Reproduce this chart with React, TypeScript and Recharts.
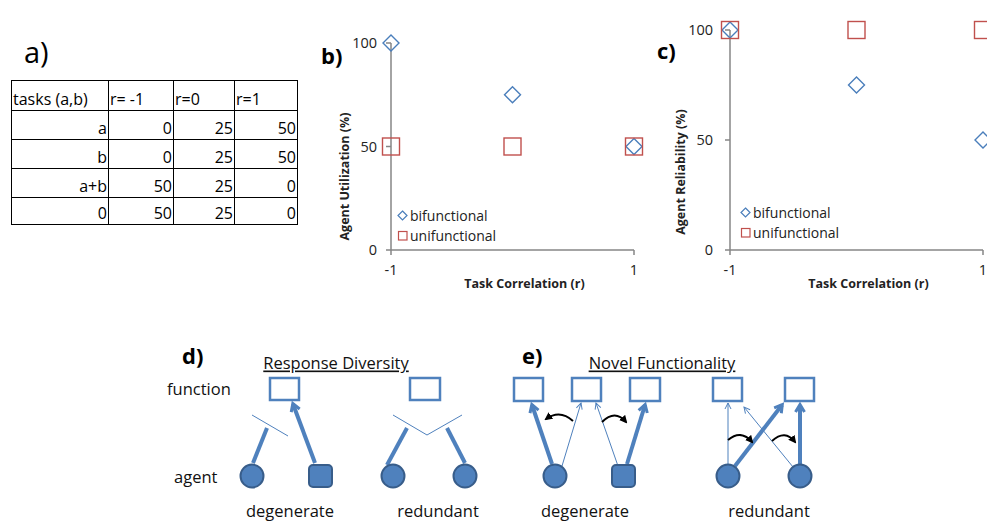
import React from "react";
import { ScatterChart, Scatter, XAxis, YAxis, Legend, Label } from "recharts";

// chart data
const correlations = [-1, 0, 1];
const utilBifunctional = [100, 75, 50];
const utilUnifunctional = [50, 50, 50];
const relBifunctional = [100, 75, 50];
const relUnifunctional = [100, 100, 100];
const yTicks = [0, 50, 100];
const xTicks = [-1, 1];

// table a)
const tableHeader = ["tasks (a,b)", "r= -1", "r=0", "r=1"];
const tableRowLabels = ["a", "b", "a+b", "0"];
const tableRMinus1 = [0, 0, 50, 50];
const tableR0 = [25, 25, 25, 25];
const tableR1 = [50, 50, 0, 0];

const FONT = "'Open Sans', Lato, sans-serif";
const BLUE = "#4a7ebb";
const RED = "#c0504d";
const AXIS = "#868686";

const toPoints = (ys: number[]) => correlations.map((x, i) => ({ x, y: ys[i] }));

const Diamond = (props: any) => {
  const { cx, cy } = props;
  const r = 8;
  return (
    <path
      d={`M${cx},${cy - r}L${cx + r},${cy}L${cx},${cy + r}L${cx - r},${cy}Z`}
      fill="none"
      stroke={BLUE}
      strokeWidth={1.4}
    />
  );
};

const Square = (props: any) => {
  const { cx, cy } = props;
  const s = 8.5;
  return <rect x={cx - s} y={cy - s} width={2 * s} height={2 * s} fill="none" stroke={RED} strokeWidth={1.4} />;
};

const LegendBox = (props: any) => {
  const { payload } = props;
  return (
    <div style={{ fontFamily: FONT, fontSize: 14, color: "#222" }}>
      {(payload || []).map((p: any) => (
        <div key={p.value} style={{ display: "flex", alignItems: "center", height: 20 }}>
          <svg width={11} height={11} style={{ marginRight: 2 }}>
            {p.type === "diamond" ? (
              <path d="M5.5,1L10,5.5L5.5,10L1,5.5Z" fill="none" stroke={BLUE} strokeWidth={1.2} />
            ) : (
              <rect x={1.5} y={1.5} width={8.5} height={8.5} fill="none" stroke={RED} strokeWidth={1.2} />
            )}
          </svg>
          <span>{p.value}</span>
        </div>
      ))}
    </div>
  );
};

const yLabel = (text: string, x: number, dy: number) => (props: any) => {
  const vb = props.viewBox;
  const cy = vb.y + vb.height / 2 + dy;
  return (
    <text
      x={x}
      y={cy}
      transform={`rotate(-90 ${x} ${cy})`}
      textAnchor="middle"
      dominantBaseline="central"
      fontFamily={FONT}
      fontWeight={700}
      fontSize={12.5}
      fill="#222"
    >
      {text}
    </text>
  );
};

const xLabel = (text: string, dx: number, dy: number) => (props: any) => {
  const vb = props.viewBox;
  return (
    <text
      x={vb.x + vb.width / 2 + dx}
      y={vb.y + dy}
      textAnchor="middle"
      dominantBaseline="central"
      fontFamily={FONT}
      fontWeight={700}
      fontSize={12.5}
      fill="#222"
    >
      {text}
    </text>
  );
};

type PanelProps = {
  left: number;
  top: number;
  width: number;
  height: number;
  margin: { top: number; right: number; bottom: number; left: number };
  bif: number[];
  uni: number[];
  yTitle: string;
  yLabelX: number;
  yLabelDy: number;
  yTickMargin: number;
  legendPos: { left: number; top: number };
};

function Panel(p: PanelProps) {
  const tick = { fill: "#222", fontSize: 14.5, fontFamily: FONT };
  return (
    <div style={{ position: "absolute", left: p.left, top: p.top }}>
      <ScatterChart width={p.width} height={p.height} margin={p.margin}>
        <XAxis
          type="number"
          dataKey="x"
          domain={[-1, 1]}
          ticks={xTicks}
          interval={0}
          height={50}
          tickSize={5}
          tickMargin={10}
          tick={tick}
          axisLine={{ stroke: AXIS, strokeWidth: 1.5 }}
          tickLine={{ stroke: AXIS, strokeWidth: 1.5 }}
        >
          <Label content={xLabel("Task Correlation (r)", 12, 33)} />
        </XAxis>
        <YAxis
          type="number"
          dataKey="y"
          domain={[0, 100]}
          ticks={yTicks}
          interval={0}
          width={80}
          tickSize={5}
          tickMargin={p.yTickMargin}
          tick={tick}
          axisLine={{ stroke: AXIS, strokeWidth: 1.5 }}
          tickLine={{ stroke: AXIS, strokeWidth: 1.5 }}
        >
          <Label content={yLabel(p.yTitle, p.yLabelX, p.yLabelDy)} />
        </YAxis>
        <Legend
          layout="vertical"
          align="center"
          verticalAlign="middle"
          content={<LegendBox />}
          wrapperStyle={{ left: p.legendPos.left, top: p.legendPos.top, width: "auto" }}
        />
        <Scatter
          name="bifunctional"
          data={toPoints(p.bif)}
          legendType="diamond"
          shape={Diamond}
          isAnimationActive={false}
        />
        <Scatter
          name="unifunctional"
          data={toPoints(p.uni)}
          legendType="square"
          shape={Square}
          isAnimationActive={false}
        />
      </ScatterChart>
    </div>
  );
}

const cellBorder = "1.5px solid #000";

function TableA() {
  const cols = [tableRMinus1, tableR0, tableR1];
  const widths = [94, 62, 58, 60];
  const heights = [30, 29, 29, 29, 27];
  const cell = { border: cellBorder, padding: "0 1px", verticalAlign: "bottom" as const, lineHeight: "22px" };
  return (
    <table
      style={{
        position: "absolute",
        left: 11,
        top: 80,
        borderCollapse: "collapse",
        fontFamily: FONT,
        fontSize: 16,
        color: "#000",
        tableLayout: "fixed",
      }}
    >
      <tbody>
        <tr style={{ height: heights[0] }}>
          {tableHeader.map((h, i) => (
            <td key={h} style={{ ...cell, width: widths[i], textAlign: "left", whiteSpace: "nowrap" }}>
              {h}
            </td>
          ))}
        </tr>
        {tableRowLabels.map((lab, r) => (
          <tr key={lab} style={{ height: heights[r + 1] }}>
            <td style={{ ...cell, textAlign: "right" }}>{lab}</td>
            {cols.map((c, ci) => (
              <td key={ci} style={{ ...cell, textAlign: "right" }}>
                {c[r]}
              </td>
            ))}
          </tr>
        ))}
      </tbody>
    </table>
  );
}

const FILL = "#4f81bd";
const DARK = "#385d8a";

function Diagrams() {
  const boxes = [
    [270, 378, 29, 22],
    [410, 378, 30, 22],
    [514, 378, 29, 23],
    [572, 378, 29, 23],
    [630, 378, 30, 23],
    [713, 378, 29, 23],
    [785, 378, 29, 23],
  ];
  const circles = [
    [252, 476],
    [393, 476],
    [465, 476],
    [555, 476],
    [728, 476],
    [800, 476],
  ];
  const squares = [
    [309, 465],
    [612, 465],
  ];
  // [x1,y1,x2,y2,thick,arrow]
  const lines: [number, number, number, number, boolean, boolean][] = [
    [252, 415, 288, 436, false, false],
    [253, 463, 267, 428, true, false],
    [315, 463, 293, 404, true, true],
    [387, 465, 407, 428, true, false],
    [465, 463, 447, 428, true, false],
    [552, 464, 532, 405, true, true],
    [562, 466, 581, 403, false, true],
    [618, 466, 596, 403, false, true],
    [627, 464, 645, 405, true, true],
    [728, 464, 728, 403, false, true],
    [793, 467, 744, 407, false, true],
    [735, 466, 782, 405, true, true],
    [800, 464, 800, 405, true, true],
  ];
  const curves = [
    "M573,421 Q560,409 546,419",
    "M602,422 Q615,409 626,422",
    "M728,440 Q741,429 752,442",
    "M772,441 Q785,429 795,442",
  ];
  const txt = { fontFamily: FONT, fontSize: 16.5, fill: "#111" };
  return (
    <svg width={987} height={523} style={{ position: "absolute", left: 0, top: 0 }}>
      <defs>
        <marker id="ahThick" viewBox="0 0 12 12" refX={9} refY={6} markerWidth={12} markerHeight={12} markerUnits="userSpaceOnUse" orient="auto">
          <path d="M2,1.5L9.5,6L2,10.5" fill="none" stroke={FILL} strokeWidth={3} />
        </marker>
        <marker id="ahThin" viewBox="0 0 8 8" refX={7} refY={4} markerWidth={8} markerHeight={8} markerUnits="userSpaceOnUse" orient="auto">
          <path d="M1,1L7,4L1,7" fill="none" stroke={FILL} strokeWidth={1} />
        </marker>
        <marker id="ahBlack" viewBox="0 0 8 8" refX={6} refY={4} markerWidth={8} markerHeight={8} markerUnits="userSpaceOnUse" orient="auto">
          <path d="M0,0L8,4L0,8Z" fill="#000" />
        </marker>
      </defs>
      <text x={182} y={355} fontFamily={FONT} fontSize={22} fontWeight={700} dominantBaseline="central">d)</text>
      <text x={522} y={355} fontFamily={FONT} fontSize={22} fontWeight={700} dominantBaseline="central">e)</text>
      <text x={336} y={362} {...txt} textAnchor="middle" dominantBaseline="central" style={{ textDecoration: "underline" }}>Response Diversity</text>
      <text x={662} y={362} {...txt} textAnchor="middle" dominantBaseline="central" style={{ textDecoration: "underline" }}>Novel Functionality</text>
      <text x={167} y={388} {...txt} dominantBaseline="central">function</text>
      <text x={174} y={476} {...txt} dominantBaseline="central">agent</text>
      <text x={290} y={510} {...txt} textAnchor="middle" dominantBaseline="central">degenerate</text>
      <text x={438} y={510} {...txt} textAnchor="middle" dominantBaseline="central">redundant</text>
      <text x={585} y={510} {...txt} textAnchor="middle" dominantBaseline="central">degenerate</text>
      <text x={769} y={510} {...txt} textAnchor="middle" dominantBaseline="central">redundant</text>

      <polyline points="393,415 427,435 462,415" fill="none" stroke={FILL} strokeWidth={1} />
      {lines.map(([x1, y1, x2, y2, thick, arrow], i) => (
        <line
          key={i}
          x1={x1}
          y1={y1}
          x2={x2}
          y2={y2}
          stroke={FILL}
          strokeWidth={thick ? 4 : 1}
          markerEnd={arrow ? (thick ? "url(#ahThick)" : "url(#ahThin)") : undefined}
        />
      ))}
      {curves.map((d, i) => (
        <path key={i} d={d} fill="none" stroke="#000" strokeWidth={2} markerEnd="url(#ahBlack)" />
      ))}
      {boxes.map(([x, y, w, h], i) => (
        <rect key={i} x={x} y={y} width={w} height={h} fill="#fff" stroke={FILL} strokeWidth={2.5} />
      ))}
      {circles.map(([cx, cy], i) => (
        <circle key={i} cx={cx} cy={cy} r={11.5} fill={FILL} stroke={DARK} strokeWidth={2} />
      ))}
      {squares.map(([x, y], i) => (
        <rect key={i} x={x} y={y} width={23} height={22} rx={4} fill={FILL} stroke={DARK} strokeWidth={2} />
      ))}
    </svg>
  );
}

export default function App() {
  return (
    <div
      style={{
        position: "absolute",
        left: 0,
        top: 0,
        width: 987,
        height: 523,
        overflow: "hidden",
        background: "#fff",
        fontFamily: FONT,
      }}
    >
      <div style={{ position: "absolute", left: 24, top: 34, fontSize: 29, lineHeight: "36px" }}>a)</div>
      <TableA />
      <div style={{ position: "absolute", left: 321, top: 41, fontSize: 22, fontWeight: 700, lineHeight: "28px" }}>b)</div>
      <div style={{ position: "absolute", left: 657, top: 36, fontSize: 22, fontWeight: 700, lineHeight: "28px" }}>c)</div>
      <Panel
        left={311}
        top={20}
        width={340}
        height={280}
        margin={{ top: 23, right: 17, bottom: 0, left: 0 }}
        bif={utilBifunctional}
        uni={utilUnifunctional}
        yTitle="Agent Utilization (%)"
        yLabelX={33}
        yLabelDy={30}
        yTickMargin={9}
        legendPos={{ left: 86, top: 185 }}
      />
      <Panel
        left={650}
        top={20}
        width={350}
        height={280}
        margin={{ top: 10, right: 17, bottom: 0, left: 0 }}
        bif={relBifunctional}
        uni={relUnifunctional}
        yTitle="Agent Reliability (%)"
        yLabelX={30}
        yLabelDy={32}
        yTickMargin={12}
        legendPos={{ left: 90, top: 182 }}
      />
      <Diagrams />
    </div>
  );
}
